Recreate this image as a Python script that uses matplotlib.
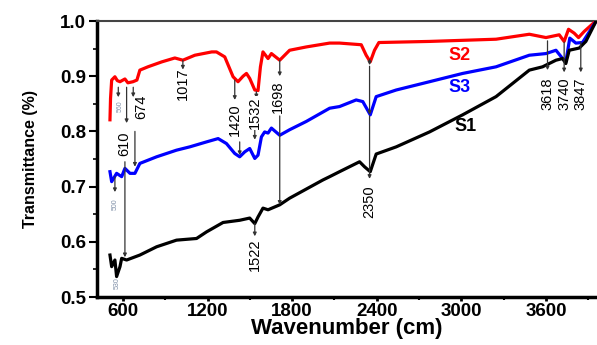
import numpy as np
import matplotlib
matplotlib.use("Agg")
import matplotlib.pyplot as plt
from matplotlib.ticker import MultipleLocator

plt.rcParams['font.family'] = ['Liberation Sans', 'DejaVu Sans']

# spectra (wavenumber, transmittance)
s2_x = [508, 512, 520, 543, 560, 579, 600, 614, 635, 671, 699, 720, 777, 876, 968, 1025, 1110, 1230,
        1263, 1322, 1381, 1416, 1452, 1476, 1499, 1535, 1558, 1575, 1593, 1629, 1653, 1712, 1782,
        1900, 2066, 2136, 2290, 2325, 2354, 2384, 2415, 2774, 3246, 3482, 3600, 3694, 3729, 3760,
        3800, 3831, 3871, 3954]
s2_y = [0.821, 0.86, 0.893, 0.899, 0.892, 0.89, 0.893, 0.895, 0.888, 0.89, 0.893, 0.911, 0.917, 0.926,
        0.933, 0.929, 0.938, 0.944, 0.944, 0.935, 0.899, 0.890, 0.900, 0.905, 0.896, 0.875, 0.874,
        0.917, 0.944, 0.932, 0.941, 0.929, 0.947, 0.953, 0.960, 0.960, 0.957, 0.938, 0.926, 0.947,
        0.961, 0.963, 0.967, 0.976, 0.970, 0.975, 0.963, 0.985, 0.978, 0.970, 0.981, 1.0]

s3_x = [508, 520, 555, 591, 614, 650, 685, 720, 839, 980, 1074, 1193, 1275, 1334, 1393, 1428, 1464,
        1499, 1535, 1558, 1582, 1605, 1629, 1653, 1712, 1782, 1900, 2066, 2136, 2254, 2301, 2354,
        2396, 2538, 2774, 3009, 3246, 3482, 3600, 3671, 3718, 3741, 3769, 3812, 3859, 3954]
s3_y = [0.727, 0.709, 0.724, 0.718, 0.733, 0.724, 0.724, 0.742, 0.754, 0.766, 0.772, 0.781, 0.787,
        0.778, 0.760, 0.754, 0.763, 0.769, 0.751, 0.757, 0.790, 0.799, 0.797, 0.806, 0.793, 0.803,
        0.818, 0.842, 0.845, 0.857, 0.854, 0.830, 0.863, 0.875, 0.890, 0.905, 0.917, 0.938, 0.941,
        0.947, 0.932, 0.926, 0.969, 0.960, 0.961, 0.999]

s1_x = [508, 520, 543, 555, 579, 591, 626, 720, 839, 980, 1122, 1193, 1310, 1428, 1499, 1535, 1558,
        1593, 1629, 1712, 1782, 2018, 2066, 2136, 2278, 2313, 2354, 2396, 2538, 2774, 3009, 3246,
        3482, 3576, 3671, 3718, 3741, 3765, 3836, 3883, 3954]
s1_y = [0.576, 0.555, 0.567, 0.537, 0.555, 0.570, 0.567, 0.576, 0.591, 0.603, 0.606, 0.618, 0.635,
        0.639, 0.643, 0.633, 0.645, 0.661, 0.658, 0.667, 0.679, 0.712, 0.718, 0.727, 0.745, 0.736,
        0.727, 0.759, 0.772, 0.799, 0.830, 0.863, 0.911, 0.917, 0.929, 0.932, 0.923, 0.947, 0.951,
        0.963, 0.999]

series_names = ["S2", "S3", "S1"]

# peak labels: text, x of label, y of label
peak_labels = ["610", "674", "1017", "1420", "1532", "1698", "1522", "2350", "3618", "3740", "3847"]
peak_label_x = [607, 731, 1025, 1393, 1535, 1697, 1535, 2349, 3611, 3729, 3847]
peak_label_y = [0.778, 0.844, 0.887, 0.821, 0.833, 0.862, 0.576, 0.672, 0.869, 0.869, 0.869]
boxed = ["1420", "1532"]

# arrow segments: x, y start, y end
arrow_x = [567, 626, 614, 673, 685, 543, 1025, 1393, 1428, 1546, 1535, 1712, 1712, 1535,
           2349, 2349, 2349, 3611, 3729, 3847]
arrow_y0 = [0.880, 0.880, 0.745, 0.880, 0.800, 0.718, 0.929, 0.893, 0.781, 0.872, 0.803, 0.929, 0.828,
            0.633, 0.930, 0.918, 0.828, 0.964, 0.962, 0.962]
arrow_y1 = [0.862, 0.815, 0.572, 0.862, 0.736, 0.690, 0.912, 0.857, 0.757, 0.860, 0.785, 0.900, 0.667,
            0.610, 0.920, 0.830, 0.714, 0.911, 0.907, 0.907]

# tiny faded labels
tiny_labels = ["560", "500", "530"]
tiny_x = [578, 543, 560]
tiny_y = [0.845, 0.668, 0.525]

fig = plt.figure(figsize=(5.97, 3.45), dpi=100)
ax = fig.add_axes([97 / 597, 48 / 345, 500 / 597, 276 / 345])

ax.plot(s2_x, s2_y, color="#ff0000", lw=2.3, zorder=3)
ax.plot(s3_x, s3_y, color="#0000ff", lw=2.3, zorder=3)
ax.plot(s1_x, s1_y, color="black", lw=2.3, zorder=3)

for x, y0, y1 in zip(arrow_x, arrow_y0, arrow_y1):
    ax.annotate("", xy=(x, y1), xytext=(x, y0),
                arrowprops=dict(arrowstyle="-|>", lw=0.9, color="#333333",
                                mutation_scale=5, shrinkA=0, shrinkB=0), zorder=4)

for t, x, y in zip(peak_labels, peak_label_x, peak_label_y):
    kw = {}
    if t in boxed:
        kw["bbox"] = dict(facecolor="white", edgecolor="none", pad=0.5)
    ax.text(x, y, t, rotation=90, ha="center", va="center", fontsize=10.5, zorder=5, **kw)

for t, x, y in zip(tiny_labels, tiny_x, tiny_y):
    ax.text(x, y, t, rotation=90, ha="center", va="center", fontsize=5,
            color="#8090a8", zorder=5)

ax.text(2985, 0.938, series_names[0], color="#ff0000", fontsize=13, fontweight="bold",
        ha="center", va="center")
ax.text(2985, 0.880, series_names[1], color="#0000ff", fontsize=13, fontweight="bold",
        ha="center", va="center")
ax.text(3030, 0.808, series_names[2], color="black", fontsize=13, fontweight="bold",
        ha="center", va="center")

ax.set_xlim(416, 3962)
ax.set_ylim(0.5, 1.0)
ax.set_xticks([600, 1200, 1800, 2400, 3000, 3600])
ax.xaxis.set_minor_locator(MultipleLocator(300))
ax.set_yticks([0.5, 0.6, 0.7, 0.8, 0.9, 1.0])
ax.yaxis.set_minor_locator(MultipleLocator(0.05))
ax.tick_params(axis="x", which="major", direction="out", length=3, width=2, labelsize=13.5, pad=1)
ax.tick_params(axis="x", which="minor", direction="out", length=2, width=1.5)
ax.tick_params(axis="y", which="major", direction="out", length=6, width=1.5, labelsize=13.5, pad=2)
ax.tick_params(axis="y", which="minor", direction="out", length=3, width=1.2)
for lab in ax.get_xticklabels() + ax.get_yticklabels():
    lab.set_fontweight("bold")

ax.spines["left"].set_linewidth(2.5)
ax.spines["bottom"].set_linewidth(2.5)
ax.spines["top"].set_linewidth(1.5)
ax.spines["top"].set_color("#444444")
ax.spines["right"].set_visible(False)

ax.set_xlabel("Wavenumber (cm)", fontsize=16, fontweight="bold", labelpad=-1)
ax.set_ylabel("Transmittance (%)", fontsize=11.5, fontweight="bold", labelpad=16)

fig.savefig("out.png", dpi=100)
